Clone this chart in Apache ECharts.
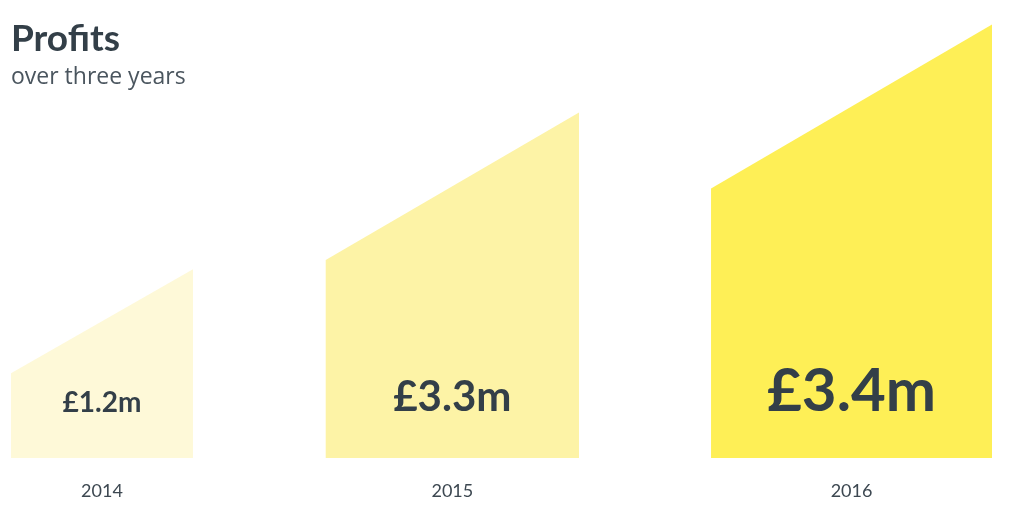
<!DOCTYPE html>
<html>
<head>
<meta charset="utf-8">
<script src="https://cdn.jsdelivr.net/npm/echarts@6/dist/echarts.min.js"></script>
<style>
  html, body { margin: 0; padding: 0; background: #ffffff; }
  #chart { width: 1024px; height: 532px; }
</style>
</head>
<body>
<div id="chart"></div>
<script>
// ---- data ----
const years = ['2014', '2015', '2016'];
const profits = [1.2, 3.3, 3.4];                 // £ millions
const valueLabels = ['£1.2m', '£3.3m', '£3.4m'];
// shape geometry in axis units (x: 0–1000 span, y: 0–100 height)
const spanStart = [0, 320.8, 713.6];
const spanEnd = [185.5, 579.0, 1000];
const leftHeight = [19.5, 45.6, 62.1];
const rightHeight = [43.5, 79.6, 99.9];

// ---- styles ----
const fills = ['#fef9d8', '#fdf3a6', '#feef56'];
const labelSizes = [28, 42, 60];
const textDark = '#333f48';

const chart = echarts.init(document.getElementById('chart'), null, { renderer: 'canvas' });

const seriesData = years.map((y, i) => [spanStart[i], spanEnd[i], leftHeight[i], rightHeight[i], profits[i]]);

const option = {
  backgroundColor: '#ffffff',
  animation: false,
  title: {
    text: 'Profits',
    subtext: 'over three years',
    left: 6,
    top: 16,
    itemGap: 8,
    textStyle: { fontFamily: 'Lato', fontWeight: 'bold', fontSize: 37, color: textDark },
    subtextStyle: { fontFamily: 'Open Sans', fontWeight: 'normal', fontSize: 23, color: '#4a555e' }
  },
  grid: { left: 11, right: 32, top: 24, bottom: 74 },
  xAxis: { type: 'value', min: 0, max: 1000, show: false },
  yAxis: { type: 'value', min: 0, max: 100, show: false },
  series: [{
    type: 'custom',
    data: seriesData,
    renderItem: function (params, api) {
      const i = params.dataIndex;
      const x0 = api.value(0), x1 = api.value(1), hl = api.value(2), hr = api.value(3);
      const bl = api.coord([x0, 0]);
      const br = api.coord([x1, 0]);
      const tl = api.coord([x0, hl]);
      const tr = api.coord([x1, hr]);
      const cx = (bl[0] + br[0]) / 2;
      const fs = labelSizes[i];
      return {
        type: 'group',
        children: [
          { type: 'polygon', shape: { points: [bl, tl, tr, br] }, style: { fill: fills[i] } },
          { type: 'text', style: {
              text: valueLabels[i], x: cx, y: bl[1] - 45 - 0.36 * fs,
              align: 'center', verticalAlign: 'middle',
              fontFamily: 'Lato', fontWeight: 'bold', fontSize: fs, fill: textDark
          } },
          { type: 'text', style: {
              text: years[i], x: cx, y: bl[1] + 33,
              align: 'center', verticalAlign: 'middle',
              fontFamily: 'Lato', fontWeight: 'normal', fontSize: 18, fill: '#3d4851'
          } }
        ]
      };
    }
  }]
};
chart.setOption(option);
</script>
</body>
</html>
